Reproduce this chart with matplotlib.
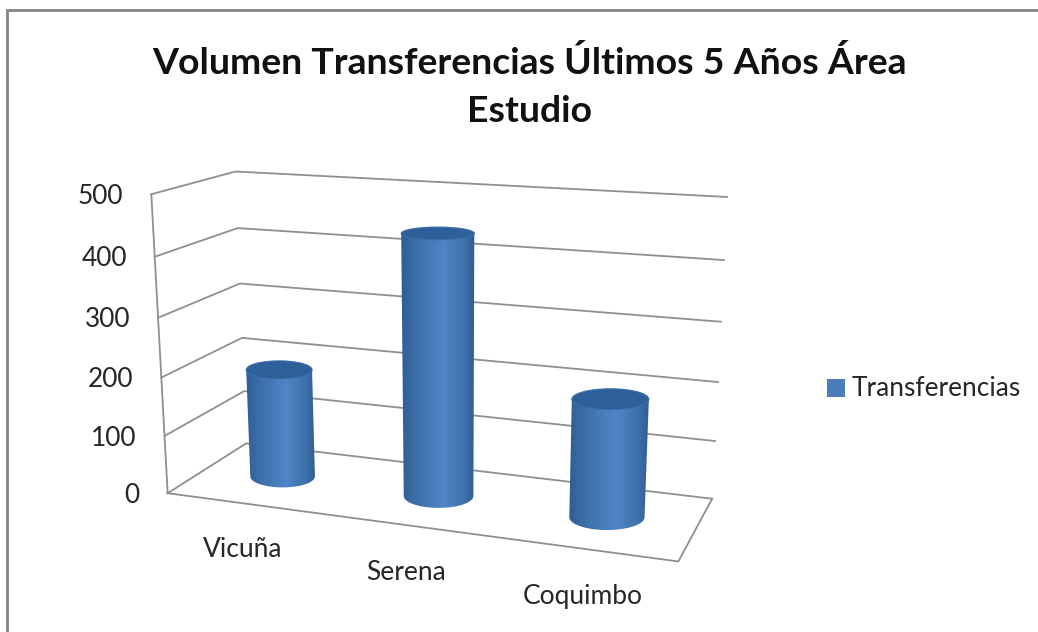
import numpy as np
import matplotlib
matplotlib.use("Agg")
import matplotlib.pyplot as plt
from matplotlib.colors import LinearSegmentedColormap
from matplotlib.patches import Polygon, Ellipse

# data
categorias = ["Vicuña", "Serena", "Coquimbo"]
transferencias = [190, 440, 196]
ticks = [0, 100, 200, 300, 400, 500]
serie = "Transferencias"
titulo = "Volumen Transferencias Últimos 5 Años Área\nEstudio"

plt.rcParams["font.family"] = ["Lato", "DejaVu Sans"]

# where the 3D frame sits on the page, in pixels: one row per tick
# (front-left corner, back-left corner, back-right corner)
marco = {
    500: [(152, 194), (235, 172), (727, 197)],
    400: [(155, 257), (237, 228), (724, 260)],
    300: [(159, 317), (239, 283), (721, 322)],
    200: [(161, 378), (242, 338), (718, 382)],
    100: [(164, 435), (245, 392), (715, 441)],
    0: [(167, 494), (247, 443), (712, 498)],
}
esquina_frontal = (678, 562)  # front-right corner of the floor


def ajustar_camara():
    """Fit a perspective camera (x, profundidad, valor) -> pixels."""
    mundo, pix = [], []
    for v, fila in marco.items():
        mundo += [(0, 0, v), (0, 1, v), (3, 1, v)]
        pix += fila
    mundo.append((3, 0, 0))
    pix.append(esquina_frontal)
    A, b = [], []
    for (x, d, v), (u, w) in zip(mundo, pix):
        z = v / 500
        A.append([x, d, z, 1, 0, 0, 0, 0, -u * x, -u * d, -u * z])
        A.append([0, 0, 0, 0, x, d, z, 1, -w * x, -w * d, -w * z])
        b += [u, w]
    p = np.linalg.lstsq(np.array(A, float), np.array(b, float), rcond=None)[0]
    return np.append(p, 1).reshape(3, 4)


P = ajustar_camara()


def proy(x, d, v):
    h = P @ np.array([x, d, v / 500, 1.0])
    return h[0] / h[2], h[1] / h[2]


fig = plt.figure(figsize=(10.38, 6.32), dpi=100)
ax = fig.add_axes([0, 0, 1, 1])
ax.set_xlim(0, 1038)
ax.set_ylim(632, 0)
ax.axis("off")

# outer border of the chart area
ax.plot([7, 7, 1038], [632, 10, 10], color="#858585", lw=2.0, solid_joinstyle="miter")

gris = "#8f8f8f"
texto = "#262626"
for v in ticks:
    a, b, c = proy(0, 0, v), proy(0, 1, v), proy(3, 1, v)
    ax.plot([a[0], b[0], c[0]], [a[1], b[1], c[1]], color=gris, lw=1.3, zorder=1)
    ax.text(a[0] - 28, a[1] + 2, str(v), ha="right", va="center", fontsize=18.9, color=texto)

# left edge and floor outline
ax.plot(*zip(proy(0, 0, 0), proy(0, 0, 500)), color=gris, lw=1.3, zorder=1)
ax.plot(*zip(proy(0, 0, 0), proy(3, 0, 0), proy(3, 1, 0)), color=gris, lw=1.3, zorder=1)

# cylinders
sombra = LinearSegmentedColormap.from_list(
    "cilindro",
    [(0, "#305e93"), (0.2, "#3c6eaa"), (0.58, "#4f86c8"), (0.88, "#3d6fa9"), (1, "#305d8f")],
)
t = np.linspace(0, np.pi, 60)
r = 0.215
for i, (nombre, valor) in enumerate(zip(categorias, transferencias)):
    x = i + 0.5
    cx0, cy0 = proy(x, 0.5, 0)
    cx1, cy1 = proy(x, 0.5, valor)
    w0 = abs(proy(x + r, 0.5, 0)[0] - proy(x - r, 0.5, 0)[0]) / 2
    w1 = abs(proy(x + r, 0.5, valor)[0] - proy(x - r, 0.5, valor)[0]) / 2
    h0 = abs(proy(x, 0.5 + r, 0)[1] - proy(x, 0.5 - r, 0)[1]) / 2
    h1 = abs(proy(x, 0.5 + r, valor)[1] - proy(x, 0.5 - r, valor)[1]) / 2

    # body: bottom half ellipse plus the two sides
    bx = cx0 + w0 * np.cos(t)
    by = cy0 + h0 * np.sin(t)
    puntos = np.vstack([[[cx1 + w1, cy1]], np.column_stack([bx, by]), [[cx1 - w1, cy1]]])
    cuerpo = Polygon(puntos, closed=True, facecolor="none", edgecolor="none", zorder=3)
    ax.add_patch(cuerpo)
    grad = np.linspace(0, 1, 256).reshape(1, -1)
    izq, der = min(cx0 - w0, cx1 - w1), max(cx0 + w0, cx1 + w1)
    im = ax.imshow(grad, cmap=sombra, aspect="auto", zorder=3,
                   extent=(izq, der, cy0 + h0 + 1, cy1), interpolation="bilinear")
    im.set_clip_path(cuerpo)

    tapa = Ellipse((cx1, cy1), 2 * w1, 2 * h1, facecolor="#2f5f98", edgecolor="#3a6dab", lw=0.8, zorder=4)
    ax.add_patch(tapa)

    # category label under the front edge
    fx, fy = proy(x, 0, 0)
    ax.text(fx - 2, fy + 46 + i, nombre, ha="center", va="center", fontsize=19, color=texto)

ax.set_xlim(0, 1038)
ax.set_ylim(632, 0)

# legend
ax.scatter([835.5], [387.5], marker="s", s=150, color="#4a7ebb", linewidths=0, zorder=5)
ax.text(852, 388, serie, ha="left", va="center", fontsize=18.9, color=texto)

# title
ax.text(529, 87, titulo, ha="center", va="center", fontsize=26.9, fontweight="bold",
        color="#111111", linespacing=1.57)

fig.savefig("out.png", dpi=100, facecolor="white")
